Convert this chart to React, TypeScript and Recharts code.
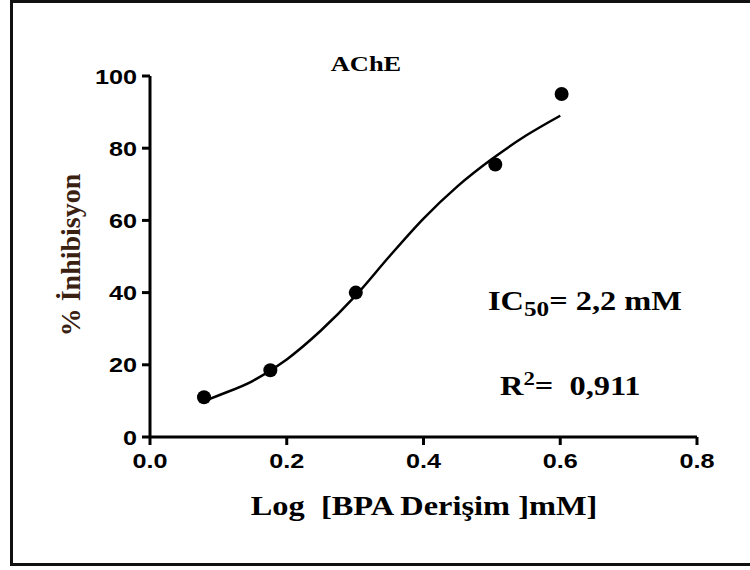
import React from 'react';
import { ScatterChart, Scatter, XAxis, YAxis } from 'recharts';

// Measured points: log concentration vs % inhibition
const pointX = [0.079, 0.176, 0.301, 0.505, 0.602];
const pointY = [11, 18.5, 40, 75.5, 95];

// Fitted curve
const curveX = [0.08, 0.1, 0.15, 0.2, 0.25, 0.3, 0.35, 0.4, 0.45, 0.5, 0.55, 0.6];
const curveY = [10, 11.5, 15.5, 21.5, 29.5, 39, 50, 60.5, 69.5, 77, 83.5, 89];

const xTicks = [0, 0.2, 0.4, 0.6, 0.8];
const yTicks = [0, 20, 40, 60, 80, 100];

const points = pointX.map((x, i) => ({ x, y: pointY[i] }));
const curve = curveX.map((x, i) => ({ x, y: curveY[i] }));

const sans = '"Liberation Sans", Arial, sans-serif';
const serif = '"Liberation Serif", "Times New Roman", serif';
const SX = 1.2;

const XTick = (p: any) => {
  const { x, y, payload } = p;
  return (
    <g transform={`translate(${x},${y}) scale(${SX},1)`}>
      <text x={0} y={0} dy="0.72em" textAnchor="middle" fontFamily={sans} fontWeight={700} fontSize={21} fill="#000">
        {Number(payload.value).toFixed(1)}
      </text>
    </g>
  );
};

const YTick = (p: any) => {
  const { x, y, payload } = p;
  return (
    <g transform={`translate(${x},${y}) scale(${SX},1)`}>
      <text x={0} y={0} dy="0.36em" textAnchor="end" fontFamily={sans} fontWeight={700} fontSize={21} fill="#000">
        {payload.value}
      </text>
    </g>
  );
};

export default function App() {
  return (
    <div style={{ position: 'absolute', left: 0, top: 0, width: 750, height: 570, overflow: 'hidden', background: '#fff' }}>
      <div
        style={{
          position: 'absolute',
          left: 10,
          top: 0,
          width: 760,
          height: 566,
          border: '3px solid #111',
          boxSizing: 'border-box',
        }}
      />
      <div style={{ position: 'absolute', left: 0, top: 0 }}>
        <ScatterChart width={750} height={570} margin={{ top: 76, right: 53, bottom: 0, left: 0 }}>
          <XAxis
            type="number"
            dataKey="x"
            domain={[0, 0.8]}
            ticks={xTicks}
            height={133}
            axisLine={{ stroke: '#000', strokeWidth: 3 }}
            tickLine={{ stroke: '#000', strokeWidth: 3 }}
            tickSize={8}
            tickMargin={8}
            tick={XTick}
            allowDataOverflow
          />
          <YAxis
            type="number"
            dataKey="y"
            domain={[0, 100]}
            ticks={yTicks}
            width={150}
            axisLine={{ stroke: '#000', strokeWidth: 3 }}
            tickLine={{ stroke: '#000', strokeWidth: 3 }}
            tickSize={8}
            tickMargin={5}
            tick={YTick}
            allowDataOverflow
          />
          <Scatter
            data={curve}
            line={{ stroke: '#000', strokeWidth: 2.5 }}
            lineJointType="monotoneX"
            shape={() => <g />}
            isAnimationActive={false}
          />
          <Scatter
            data={points}
            shape={(p: any) => <circle cx={p.cx} cy={p.cy} r={7} fill="#000" />}
            isAnimationActive={false}
          />
        </ScatterChart>
      </div>
      <svg width={750} height={570} style={{ position: 'absolute', left: 0, top: 0, pointerEvents: 'none', whiteSpace: 'pre' }}>
        <g transform={`translate(366,71) scale(${SX},1)`}>
          <text x={0} y={0} textAnchor="middle" fontFamily={serif} fontWeight={700} fontSize={22} fill="#000">
            AChE
          </text>
        </g>
        <text
          x={0}
          y={0}
          transform="translate(80,255) rotate(-90)"
          textAnchor="middle"
          fontFamily={serif}
          fontWeight={700}
          fontSize={28}
          fill="#3a2010"
        >
          % İnhibisyon
        </text>
        <g transform={`translate(424,515) scale(${SX},1)`}>
          <text x={0} y={0} textAnchor="middle" fontFamily={serif} fontWeight={700} fontSize={27} fill="#000" xmlSpace="preserve" style={{ whiteSpace: 'pre' }}>
            {'Log  [BPA Derişim ]mM]'}
          </text>
        </g>
        <g transform={`translate(488,310) scale(1.2,1)`}>
          <text x={0} y={0} fontFamily={serif} fontWeight={700} fontSize={27} fill="#000" xmlSpace="preserve" style={{ whiteSpace: 'pre' }}>
            IC<tspan fontSize={21} dy={6}>50</tspan>
            <tspan dy={-6}>{'= 2,2 mM'}</tspan>
          </text>
        </g>
        <g transform={`translate(500,395) scale(1.2,1)`}>
          <text x={0} y={0} fontFamily={serif} fontWeight={700} fontSize={27} fill="#000" xmlSpace="preserve" style={{ whiteSpace: 'pre' }}>
            R<tspan fontSize={19} dy={-10}>2</tspan>
            <tspan dy={10}>{'=  0,911'}</tspan>
          </text>
        </g>
      </svg>
    </div>
  );
}
